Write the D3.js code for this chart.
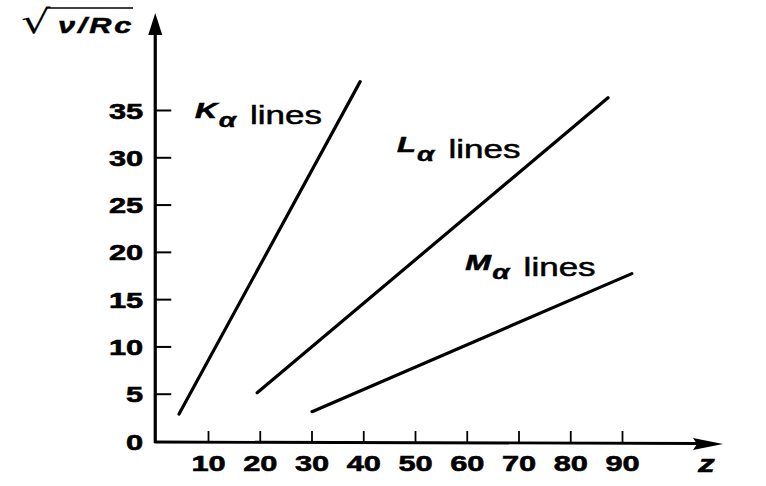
<!DOCTYPE html>
<html><head><meta charset="utf-8">
<script src="https://cdn.jsdelivr.net/npm/d3@7"></script>
<style>body{margin:0;background:#fff}svg{display:block}</style>
</head><body>
<script>
// ---- data ----
const xTicks = [10, 20, 30, 40, 50, 60, 70, 80, 90];
const yTicks = [0, 5, 10, 15, 20, 25, 30, 35];
const seriesNames = ["K", "L", "M"];
const kLine = [[4.4, 2.85], [39.4, 38.0]];
const lLine = [[19.5, 5.1], [87.3, 36.3]];
const mLine = [[30.1, 3.1], [91.9, 17.7]];
const seriesLines = [kLine, lLine, mLine];
const labelAnchors = [[7.5, 34.2], [46.5, 30.6], [59.7, 18.1]];
const yTitle = "ν/Rc";
const xTitle = "z";

// ---- layout ----
const W = 766, H = 486, SX = 1.4;
const x = d3.scaleLinear().domain([10, 90]).range([208, 622]);
const y = d3.scaleLinear().domain([0, 35]).range([441, 110]);
const x0 = x(0), y0 = 442;

const svg = d3.select("body").append("svg").attr("width", W).attr("height", H);
svg.append("rect").attr("width", W).attr("height", H).attr("fill", "#fff");

function stretch(sel, px, py) {
  sel.attr("transform", `translate(${px},${py}) scale(${SX},1)`);
}

// y axis
const gy = svg.append("g").attr("transform", `translate(${x0 - 1},0)`)
  .call(d3.axisLeft(y).tickValues(yTicks).tickSizeInner(-16).tickSizeOuter(0).tickFormat(d3.format("d")));
gy.select(".domain").remove();
gy.selectAll(".tick line").attr("stroke", "#000").attr("stroke-width", 2).attr("x1", 0);
gy.selectAll(".tick").filter(d => d === 0).select("line").remove();
gy.selectAll(".tick text").each(function (d) {
  const t = d3.select(this);
  t.attr("x", null).attr("dy", null).attr("text-anchor", "end")
   .attr("font-family", "Liberation Sans, Arial, sans-serif").attr("font-weight", "bold")
   .attr("font-size", 22).attr("fill", "#000").attr("stroke", "#000").attr("stroke-width", 0.6);
  stretch(t, -12, 8);
});

// x axis
const gx = svg.append("g").attr("transform", `translate(0,${y0})`)
  .call(d3.axisBottom(x).tickValues(xTicks).tickSizeInner(-11).tickSizeOuter(0).tickFormat(d3.format("d")));
gx.select(".domain").remove();
gx.selectAll(".tick line").attr("stroke", "#000").attr("stroke-width", 1.8);
gx.selectAll(".tick text").each(function (d) {
  const t = d3.select(this);
  t.attr("y", null).attr("dy", null).attr("text-anchor", "middle")
   .attr("font-family", "Liberation Sans, Arial, sans-serif").attr("font-weight", "bold")
   .attr("font-size", 22).attr("fill", "#000").attr("stroke", "#000").attr("stroke-width", 0.6);
  stretch(t, 0, 29);
});

// axis lines + arrows
svg.append("line").attr("x1", x0 - 1).attr("x2", x0 - 1).attr("y1", y0 + 1).attr("y2", 30)
  .attr("stroke", "#000").attr("stroke-width", 3.2);
svg.append("path").attr("d", `M${x0 - 1},13 L${x0 - 8},35 L${x0 + 6},35 Z`).attr("fill", "#000");
svg.append("line").attr("x1", x0 - 2).attr("x2", 700).attr("y1", y0).attr("y2", y0 + 1.5)
  .attr("stroke", "#000").attr("stroke-width", 2.8);
svg.append("path").attr("d", `M723,444 L693,438 L697,444 L693,450 Z`).attr("fill", "#000");

// series lines
const line = d3.line().x(d => x(d[0])).y(d => y(d[1]));
svg.selectAll(".series").data(seriesLines).enter().append("path")
  .attr("class", "series").attr("d", line).attr("fill", "none")
  .attr("stroke", "#000").attr("stroke-width", 3.2).attr("stroke-linecap", "round");

// series labels
seriesNames.forEach((n, i) => {
  const t = svg.append("text").attr("fill", "#000").attr("stroke", "#000")
    .attr("font-family", "Liberation Sans, Arial, sans-serif");
  stretch(t, x(labelAnchors[i][0]), y(labelAnchors[i][1]));
  t.append("tspan").text(n).attr("font-weight", "bold").attr("font-style", "italic")
    .attr("font-size", 22).attr("stroke-width", 0.6);
  t.append("tspan").text("α").attr("font-weight", "bold").attr("font-style", "italic").attr("font-size", 20)
    .attr("stroke-width", 0.4).attr("dy", 9).attr("dx", 1);
  t.append("tspan").text("lines").attr("font-size", 25).attr("stroke-width", 0.5).attr("dy", -3).attr("dx", 10);
});

// y title: radical + overline
const yt = svg.append("text").attr("fill", "#000").attr("font-family", "DejaVu Sans, sans-serif")
  .attr("font-size", 33).text("√");
stretch(yt, 21, 33);
svg.append("line").attr("x1", 46).attr("x2", 133).attr("y1", 8).attr("y2", 8)
  .attr("stroke", "#000").attr("stroke-width", 1.5);
const yt2 = svg.append("text").attr("fill", "#000").attr("stroke", "#000").attr("stroke-width", 0.5)
  .attr("font-family", "Liberation Sans, Arial, sans-serif")
  .attr("font-weight", "bold").attr("font-style", "italic").attr("font-size", 22)
  .attr("letter-spacing", 2).text(yTitle);
stretch(yt2, 58, 33);

// x title
const xt = svg.append("text").attr("fill", "#000").attr("stroke", "#000").attr("stroke-width", 0.5)
  .attr("font-family", "Liberation Sans, Arial, sans-serif")
  .attr("font-weight", "bold").attr("font-style", "italic").attr("font-size", 24).text(xTitle);
stretch(xt, 698, 472);
</script>
</body></html>
